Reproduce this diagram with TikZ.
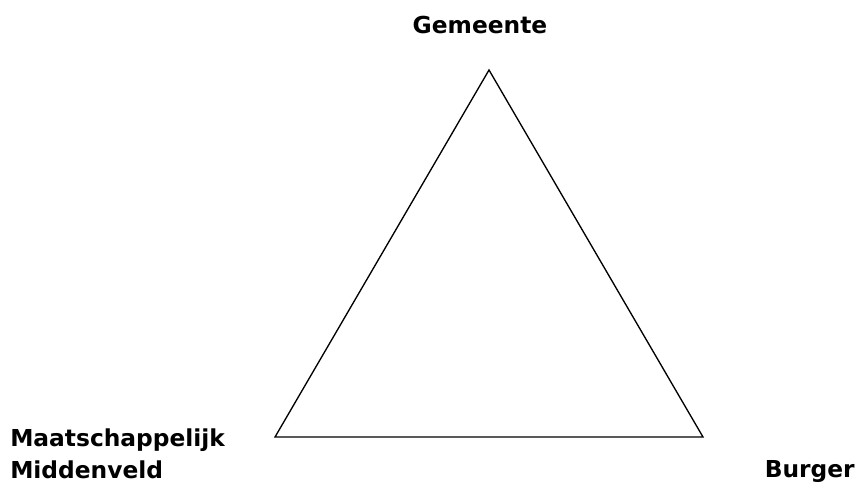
\documentclass[tikz,border=0pt]{standalone}
\usepackage{fontspec}
\setmainfont{DejaVu Sans}
\usetikzlibrary{positioning}
\tikzset{
  lbl/.style={font=\fontsize{17.5}{24}\selectfont\bfseries,inner sep=0pt},
  side/.style={draw=black,line width=1pt,line join=miter},
}

\begin{document}
\begin{tikzpicture}[x=0.75pt,y=-0.75pt]
  \useasboundingbox (0,0) rectangle (860,489);
  % corners of the triangle
  \coordinate (top) at (489,70);
  \coordinate (lft) at (275,437);
  \coordinate (rgt) at (703,437);

  \draw[side] (top) -- (lft) -- (rgt) -- cycle;

  \node[lbl] (gem) at (480,25) {Gemeente};
  \node[lbl,anchor=west,align=left] (mid) at (10,454)
    {Maatschappelijk\\Middenveld};
  \node[lbl,anchor=east] (burg) at (855,472) {Burger};
\end{tikzpicture}
\end{document}
